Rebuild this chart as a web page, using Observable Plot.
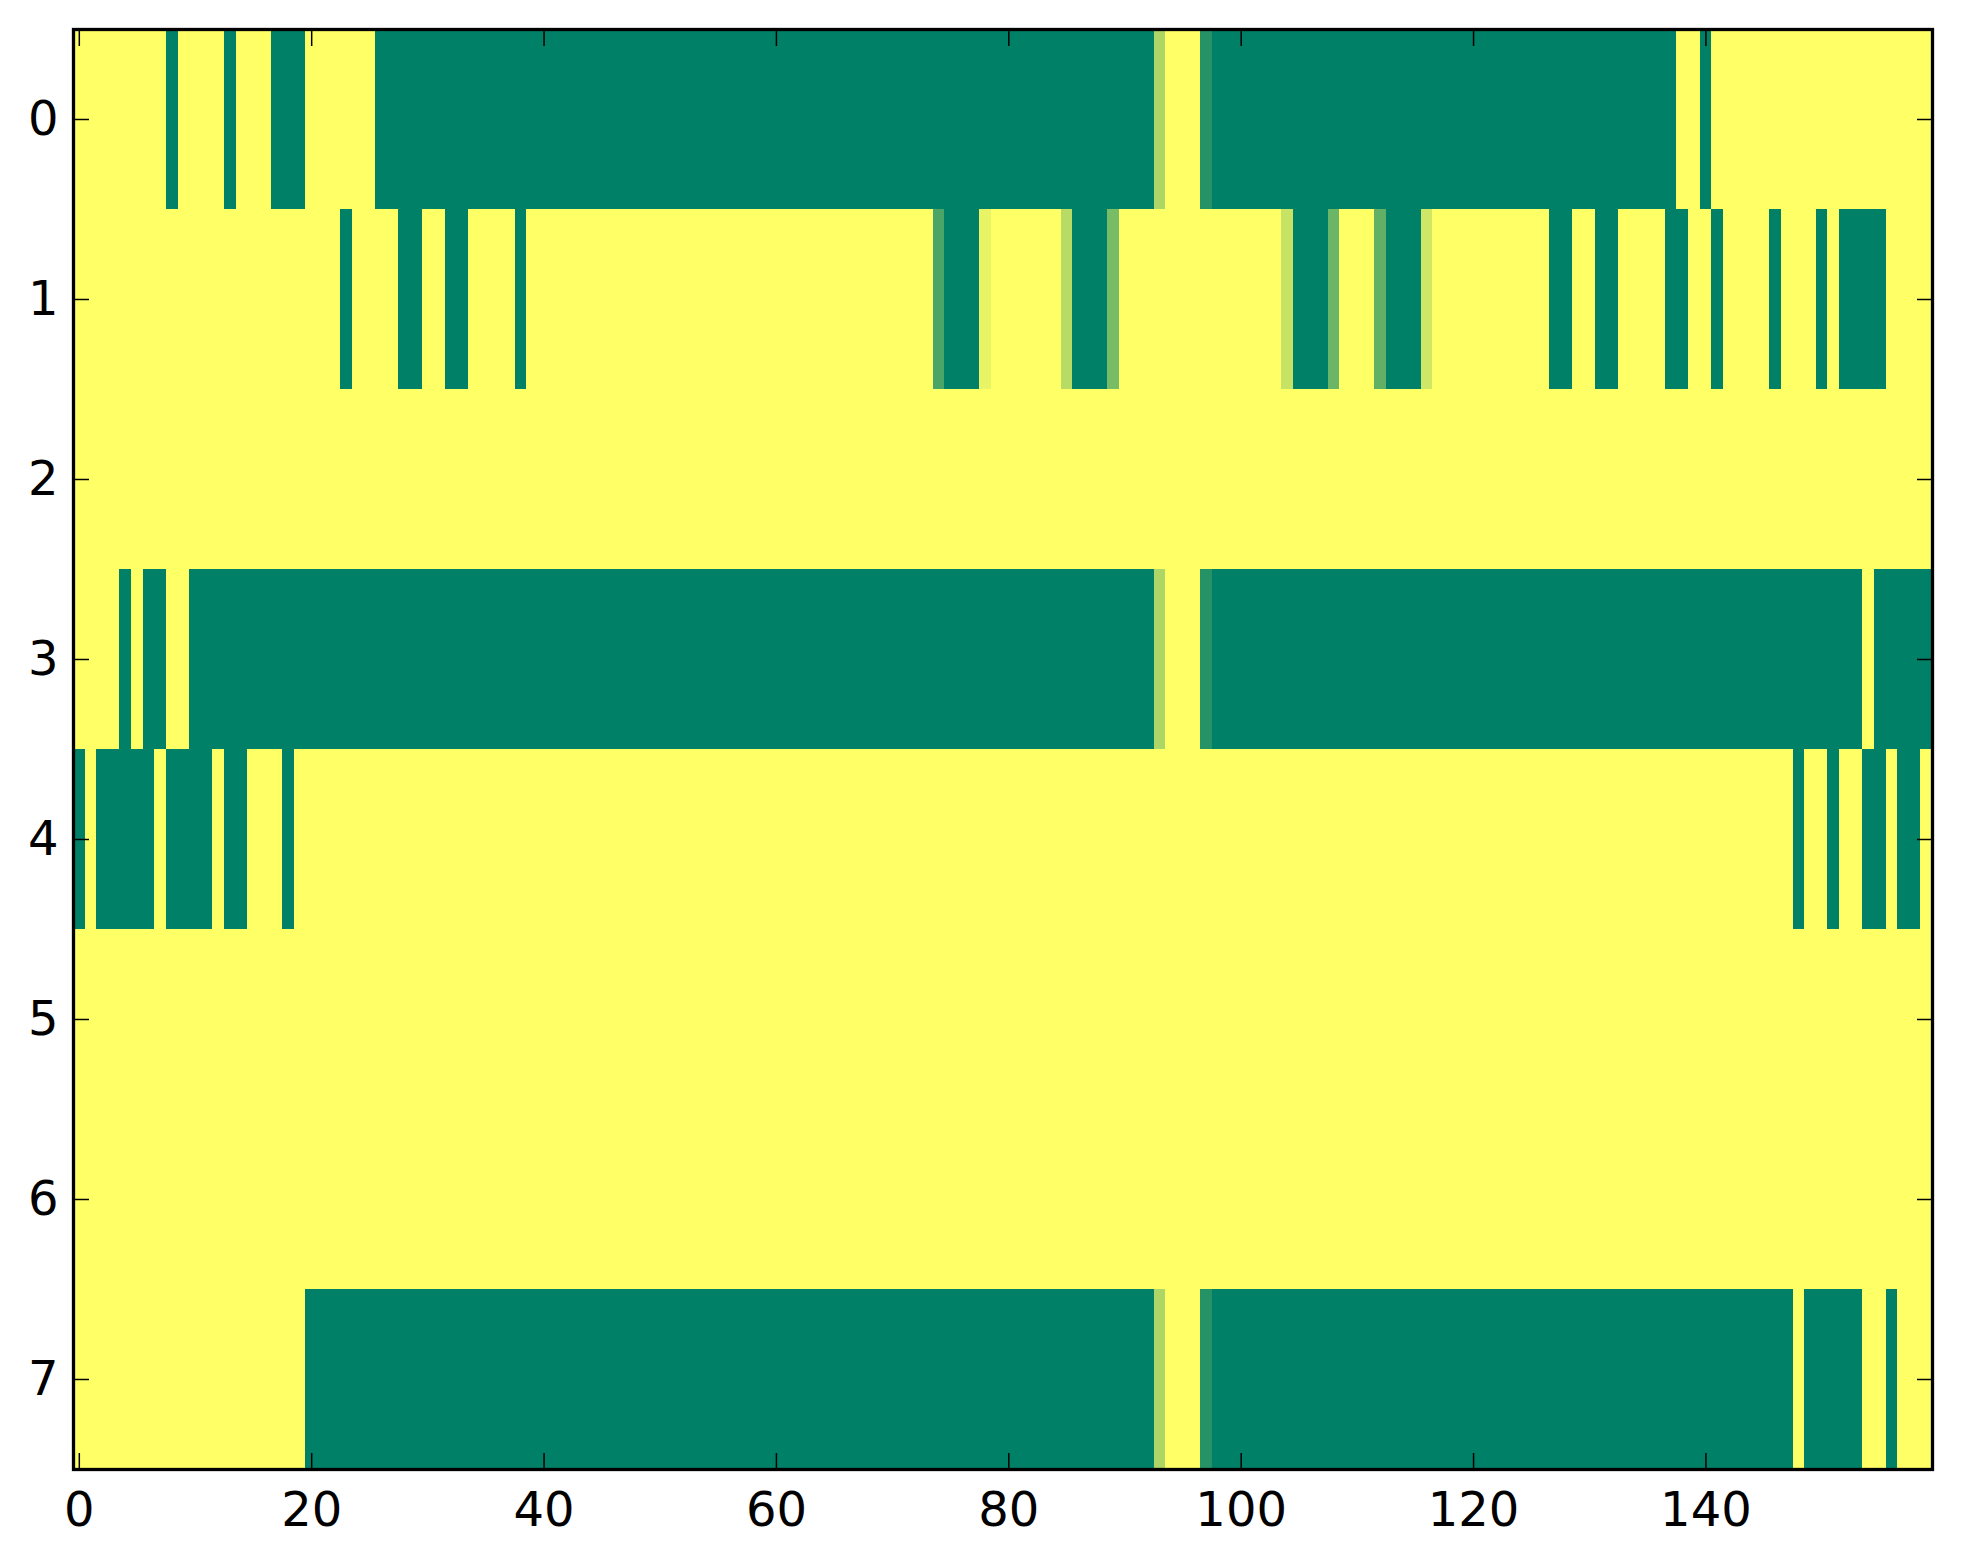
<!DOCTYPE html>
<html>
<head>
<meta charset="utf-8">
<script src="https://cdn.jsdelivr.net/npm/d3@7"></script>
<script src="https://cdn.jsdelivr.net/npm/@observablehq/plot@0.6"></script>
<style>
  body { margin: 0; background: #ffffff; }
</style>
</head>
<body>
<div id="chart"></div>
<script>
// one list of 160 cell values per row (0 = green, 1 = yellow)
const row0 = [
  1,1,1,1,1,1,1,1,0,1, 1,1,1,0,1,1,1,0,0,0,
  1,1,1,1,1,1,0,0,0,0, 0,0,0,0,0,0,0,0,0,0,
  0,0,0,0,0,0,0,0,0,0, 0,0,0,0,0,0,0,0,0,0,
  0,0,0,0,0,0,0,0,0,0, 0,0,0,0,0,0,0,0,0,0,
  0,0,0,0,0,0,0,0,0,0, 0,0,0,0.68,1,1,1,0.15,0,0,
  0,0,0,0,0,0,0,0,0,0, 0,0,0,0,0,0,0,0,0,0,
  0,0,0,0,0,0,0,0,0,0, 0,0,0,0,0,0,0,0,1,1,
  0,1,1,1,1,1,1,1,1,1, 1,1,1,1,1,1,1,1,1,1
]
const row1 = [
  1,1,1,1,1,1,1,1,1,1, 1,1,1,1,1,1,1,1,1,1,
  1,1,1,0,1,1,1,1,0,0, 1,1,0,0,1,1,1,1,0,1,
  1,1,1,1,1,1,1,1,1,1, 1,1,1,1,1,1,1,1,1,1,
  1,1,1,1,1,1,1,1,1,1, 1,1,1,1,0.29,0,0,0,0.91,1,
  1,1,1,1,1,0.72,0,0,0,0.47, 1,1,1,1,1,1,1,1,1,1,
  1,1,1,1,0.78,0,0,0,0.42,1, 1,1,0.38,0,0,0,0.81,1,1,1,
  1,1,1,1,1,1,1,0,0,1, 1,0,0,1,1,1,1,0,0,1,
  1,0,1,1,1,1,0,1,1,1, 0,1,0,0,0,0,1,1,1,1
]
const row2 = [
  1,1,1,1,1,1,1,1,1,1, 1,1,1,1,1,1,1,1,1,1,
  1,1,1,1,1,1,1,1,1,1, 1,1,1,1,1,1,1,1,1,1,
  1,1,1,1,1,1,1,1,1,1, 1,1,1,1,1,1,1,1,1,1,
  1,1,1,1,1,1,1,1,1,1, 1,1,1,1,1,1,1,1,1,1,
  1,1,1,1,1,1,1,1,1,1, 1,1,1,1,1,1,1,1,1,1,
  1,1,1,1,1,1,1,1,1,1, 1,1,1,1,1,1,1,1,1,1,
  1,1,1,1,1,1,1,1,1,1, 1,1,1,1,1,1,1,1,1,1,
  1,1,1,1,1,1,1,1,1,1, 1,1,1,1,1,1,1,1,1,1
]
const row3 = [
  1,1,1,1,0,1,0,0,1,1, 0,0,0,0,0,0,0,0,0,0,
  0,0,0,0,0,0,0,0,0,0, 0,0,0,0,0,0,0,0,0,0,
  0,0,0,0,0,0,0,0,0,0, 0,0,0,0,0,0,0,0,0,0,
  0,0,0,0,0,0,0,0,0,0, 0,0,0,0,0,0,0,0,0,0,
  0,0,0,0,0,0,0,0,0,0, 0,0,0,0.68,1,1,1,0.15,0,0,
  0,0,0,0,0,0,0,0,0,0, 0,0,0,0,0,0,0,0,0,0,
  0,0,0,0,0,0,0,0,0,0, 0,0,0,0,0,0,0,0,0,0,
  0,0,0,0,0,0,0,0,0,0, 0,0,0,0,1,0,0,0,0,0
]
const row4 = [
  0,1,0,0,0,0,0,1,0,0, 0,0,1,0,0,1,1,1,0,1,
  1,1,1,1,1,1,1,1,1,1, 1,1,1,1,1,1,1,1,1,1,
  1,1,1,1,1,1,1,1,1,1, 1,1,1,1,1,1,1,1,1,1,
  1,1,1,1,1,1,1,1,1,1, 1,1,1,1,1,1,1,1,1,1,
  1,1,1,1,1,1,1,1,1,1, 1,1,1,1,1,1,1,1,1,1,
  1,1,1,1,1,1,1,1,1,1, 1,1,1,1,1,1,1,1,1,1,
  1,1,1,1,1,1,1,1,1,1, 1,1,1,1,1,1,1,1,1,1,
  1,1,1,1,1,1,1,1,0,1, 1,0,1,1,0,0,1,0,0,1
]
const row5 = [
  1,1,1,1,1,1,1,1,1,1, 1,1,1,1,1,1,1,1,1,1,
  1,1,1,1,1,1,1,1,1,1, 1,1,1,1,1,1,1,1,1,1,
  1,1,1,1,1,1,1,1,1,1, 1,1,1,1,1,1,1,1,1,1,
  1,1,1,1,1,1,1,1,1,1, 1,1,1,1,1,1,1,1,1,1,
  1,1,1,1,1,1,1,1,1,1, 1,1,1,1,1,1,1,1,1,1,
  1,1,1,1,1,1,1,1,1,1, 1,1,1,1,1,1,1,1,1,1,
  1,1,1,1,1,1,1,1,1,1, 1,1,1,1,1,1,1,1,1,1,
  1,1,1,1,1,1,1,1,1,1, 1,1,1,1,1,1,1,1,1,1
]
const row6 = [
  1,1,1,1,1,1,1,1,1,1, 1,1,1,1,1,1,1,1,1,1,
  1,1,1,1,1,1,1,1,1,1, 1,1,1,1,1,1,1,1,1,1,
  1,1,1,1,1,1,1,1,1,1, 1,1,1,1,1,1,1,1,1,1,
  1,1,1,1,1,1,1,1,1,1, 1,1,1,1,1,1,1,1,1,1,
  1,1,1,1,1,1,1,1,1,1, 1,1,1,1,1,1,1,1,1,1,
  1,1,1,1,1,1,1,1,1,1, 1,1,1,1,1,1,1,1,1,1,
  1,1,1,1,1,1,1,1,1,1, 1,1,1,1,1,1,1,1,1,1,
  1,1,1,1,1,1,1,1,1,1, 1,1,1,1,1,1,1,1,1,1
]
const row7 = [
  1,1,1,1,1,1,1,1,1,1, 1,1,1,1,1,1,1,1,1,1,
  0,0,0,0,0,0,0,0,0,0, 0,0,0,0,0,0,0,0,0,0,
  0,0,0,0,0,0,0,0,0,0, 0,0,0,0,0,0,0,0,0,0,
  0,0,0,0,0,0,0,0,0,0, 0,0,0,0,0,0,0,0,0,0,
  0,0,0,0,0,0,0,0,0,0, 0,0,0,0.68,1,1,1,0.15,0,0,
  0,0,0,0,0,0,0,0,0,0, 0,0,0,0,0,0,0,0,0,0,
  0,0,0,0,0,0,0,0,0,0, 0,0,0,0,0,0,0,0,0,0,
  0,0,0,0,0,0,0,0,1,0, 0,0,0,0,1,1,0,1,1,1
]
const rows = [row0, row1, row2, row3, row4, row5, row6, row7]
const xTicks = [0, 20, 40, 60, 80, 100, 120, 140]
const yTicks = [0, 1, 2, 3, 4, 5, 6, 7]

// flatten into cells
const cells = rows.flatMap((vals, r) => vals.map((v, c) => ({row: r, col: c, value: v})))

const tickStyle = {fill: "none", stroke: "black", strokeWidth: 1.5, tickSize: 16, label: null}

let chart = Plot.plot({
  width: 1963,
  height: 1564,
  marginTop: 29,
  marginBottom: 95,
  marginLeft: 73,
  marginRight: 31,
  x: {type: "band", domain: d3.range(160), padding: 0},
  y: {type: "band", domain: yTicks, padding: 0},
  color: {type: "linear", domain: [0, 1], range: ["#008066", "#ffff66"], interpolate: "rgb"},
  marks: [
    Plot.cell(cells, {x: "col", y: "row", fill: "value", inset: 0, shapeRendering: "crispEdges"}),
    Plot.axisX({anchor: "bottom", ticks: xTicks, tickSize: 0, tickPadding: 22, fontSize: 48, label: null}),
    Plot.axisX({anchor: "bottom", ticks: xTicks, dy: -16, ...tickStyle}),
    Plot.axisX({anchor: "top", ticks: xTicks, dy: 16, ...tickStyle}),
    Plot.axisY({anchor: "left", ticks: yTicks, tickSize: 0, tickPadding: 15, fontSize: 48, label: null}),
    Plot.axisY({anchor: "left", ticks: yTicks, dx: 16, ...tickStyle}),
    Plot.axisY({anchor: "right", ticks: yTicks, dx: -16, ...tickStyle}),
    Plot.frame({stroke: "black", strokeWidth: 3.3})
  ],
  style: {
    background: "#ffffff",
    color: "#000000",
    fontFamily: "DejaVu Sans"
  }
})
d3.select("#chart").append(() => chart)
</script>
</body>
</html>
